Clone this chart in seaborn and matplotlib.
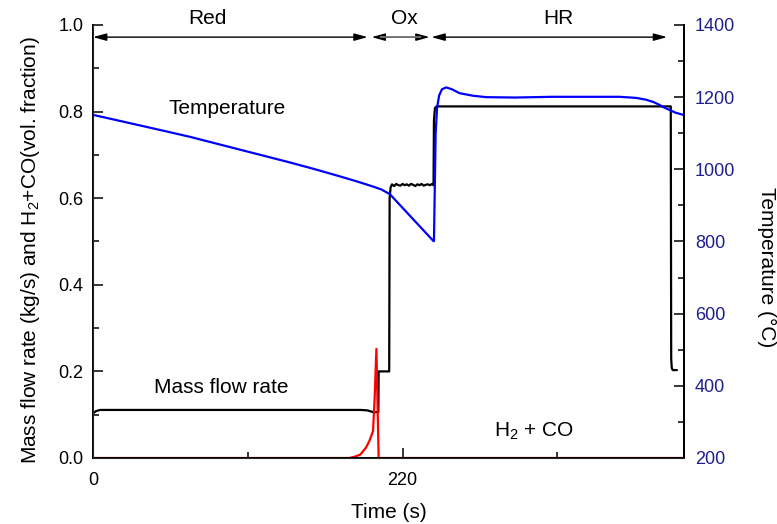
import matplotlib
matplotlib.use("Agg")
import matplotlib.pyplot as plt
from matplotlib.ticker import MultipleLocator, FormatStrFormatter
import pandas as pd
import seaborn as sns

# --- mass flow rate (kg/s) ---
time_flow = [0, 2, 5, 190, 195, 198, 199, 202.8, 203, 210.5, 210.8, 211.5, 212.5,
             214, 215.5, 217, 218.5, 220, 221.5, 223, 224.5, 226, 227.5, 229, 230.5,
             232, 233.5, 235, 236.5, 238, 239.5, 241, 242, 242.3, 243, 244,
             410.6, 410.9, 411.3, 412.0, 415]
mass_flow = [0.103, 0.108, 0.111, 0.111, 0.110, 0.107, 0.106, 0.106, 0.200, 0.200, 0.600, 0.625, 0.632,
             0.628, 0.633, 0.630, 0.629, 0.633, 0.630, 0.632, 0.629, 0.633, 0.631, 0.628, 0.632,
             0.630, 0.633, 0.629, 0.631, 0.632, 0.630, 0.633, 0.630, 0.780, 0.808, 0.812,
             0.812, 0.230, 0.208, 0.203, 0.203]

# --- H2 + CO volume fraction ---
time_gas = [0, 182, 186, 190, 194, 196.5, 199, 200.1, 201.4, 203.0, 420]
h2_co = [0.0, 0.0, 0.003, 0.008, 0.024, 0.040, 0.062, 0.134, 0.252, 0.0, 0.0]

# --- temperature (°C) ---
time_temp = [0, 16, 33, 50, 69, 86, 104, 122, 140, 158, 175, 188, 200, 205, 211,
             242, 242.3, 243.5, 244.5, 246, 248, 251, 255, 260.5, 270, 279.4, 300,
             326.5, 374, 386, 393, 398, 402.4, 406, 409.5, 414, 419.4]
temperature = [1151, 1137, 1122, 1107, 1090, 1073, 1055, 1037, 1019, 1000, 981, 966, 951, 944, 931,
               801, 801, 1100, 1170, 1205, 1222, 1227, 1222, 1211, 1204, 1200, 1199,
               1201, 1201, 1198, 1193, 1187, 1179, 1171, 1165, 1157, 1151]

# --- process phases shown along the top ---
phase_names = ["Red", "Ox", "HR"]
phase_start = [0, 198, 240.5]
phase_end = [195.2, 239.2, 408]
phase_label_x = [81.6, 221.4, 331]

# --- curve labels ---
curve_labels = ["Temperature", "Mass flow rate", "H$_2$ + CO"]
curve_label_x = [95, 91.4, 313.7]
curve_label_y = [0.808, 0.162, 0.061]

flow_df = pd.DataFrame({"time": time_flow, "value": mass_flow})
gas_df = pd.DataFrame({"time": time_gas, "value": h2_co})
temp_df = pd.DataFrame({"time": time_temp, "value": temperature})

sns.set_style("ticks")
plt.rcParams["font.family"] = ["Liberation Sans", "DejaVu Sans"]
plt.rcParams["mathtext.fontset"] = "custom"
plt.rcParams["mathtext.rm"] = "Liberation Sans"
plt.rcParams["mathtext.it"] = "Liberation Sans:italic"
plt.rcParams["text.color"] = "black"
plt.rcParams["axes.labelcolor"] = "black"
plt.rcParams["xtick.color"] = "black"
plt.rcParams["ytick.color"] = "black"

fig = plt.figure(figsize=(7.77, 5.24), dpi=100)
ax = fig.add_axes([93 / 777, 1 - 458 / 524, 591 / 777, 433 / 524])

sns.lineplot(data=flow_df, x="time", y="value", ax=ax, color="black",
             linewidth=1.6, sort=False, estimator=None)
sns.lineplot(data=gas_df, x="time", y="value", ax=ax, color="#ff0000",
             linewidth=1.6, sort=False, estimator=None)

ax.set_xlim(0, 420)
ax.set_ylim(0, 1.0)
ax.xaxis.set_major_locator(MultipleLocator(220))
ax.xaxis.set_minor_locator(MultipleLocator(110))
ax.yaxis.set_major_locator(MultipleLocator(0.2))
ax.yaxis.set_minor_locator(MultipleLocator(0.1))
ax.yaxis.set_major_formatter(FormatStrFormatter("%.1f"))
ax.tick_params(axis="both", which="major", direction="in", length=7, width=1.1,
               labelsize=13, colors="black")
ax.tick_params(axis="both", which="minor", direction="in", length=4, width=1.1,
               colors="black")
ax.tick_params(axis="y", which="major", pad=7)
ax.tick_params(axis="x", which="major", pad=10)
ax.spines["top"].set_visible(False)
for s in ("left", "bottom", "right"):
    ax.spines[s].set_linewidth(1.4)
    ax.spines[s].set_color("black")

ax.set_xlabel("Time (s)", fontsize=15, color="black")
ax.xaxis.label.set_va("center")
ax.xaxis.set_label_coords(0.501, -0.125)
ax.set_ylabel("Mass flow rate (kg/s) and H$_2$+CO(vol. fraction)", fontsize=15,
              color="black")
ax.yaxis.label.set_va("center")
ax.yaxis.set_label_coords(-0.105, 0.48)

# temperature on the secondary axis
ax2 = ax.twinx()
sns.lineplot(data=temp_df, x="time", y="value", ax=ax2, color="#0000ff",
             linewidth=1.6, sort=False, estimator=None)
ax2.set_ylim(200, 1400)
ax2.yaxis.set_major_locator(MultipleLocator(200))
ax2.yaxis.set_minor_locator(MultipleLocator(100))
ax2.tick_params(axis="y", which="major", direction="in", length=7, width=1.1,
                labelsize=13, color="black", labelcolor="#1f1f8c", pad=8)
ax2.tick_params(axis="y", which="minor", direction="in", length=4, width=1.1,
                color="black")
ax2.spines["top"].set_visible(False)
ax2.spines["right"].set_linewidth(1.4)
ax2.spines["right"].set_color("black")
ax2.set_ylabel("Temperature (°C)", fontsize=15, rotation=270, color="black")
ax2.yaxis.label.set_va("center")
ax2.yaxis.set_label_coords(1.140, 0.44)

# phase arrows and names
arrow_level = 0.972
for name, x0, x1, xl in zip(phase_names, phase_start, phase_end, phase_label_x):
    ax.annotate("", xy=(x1, arrow_level), xytext=(x0, arrow_level),
                xycoords="data", textcoords="data",
                arrowprops=dict(arrowstyle="<|-|>,head_length=0.8,head_width=0.22",
                                color="black", lw=1.0, shrinkA=0, shrinkB=0))
    if name == "Ox":
        ax.plot([x0 + 6, x1 - 6], [arrow_level, arrow_level], color="#808080",
                lw=1.2, solid_capstyle="butt", zorder=5)
    ax.text(xl, 1.016, name, ha="center", va="center", fontsize=15, clip_on=False)

for lbl, lx, ly in zip(curve_labels, curve_label_x, curve_label_y):
    ax.text(lx, ly, lbl, ha="center", va="center", fontsize=15)

fig.savefig("out.png", dpi=100)
